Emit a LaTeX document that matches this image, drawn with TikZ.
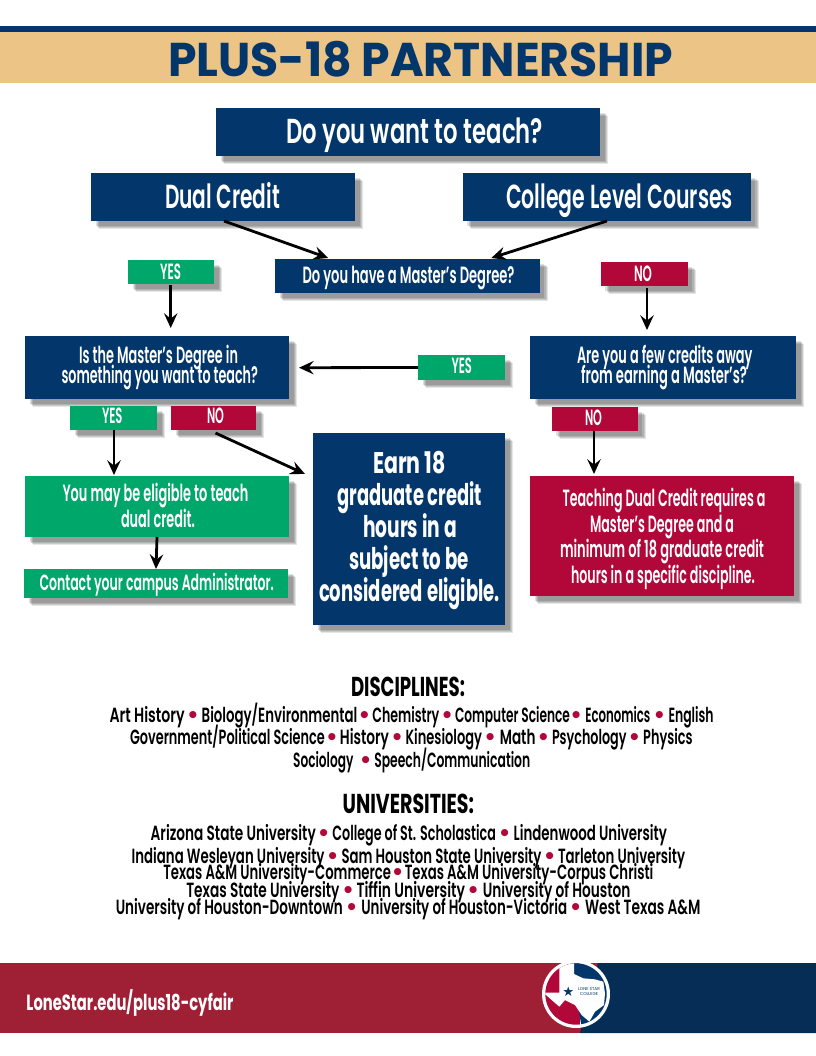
\documentclass[tikz,border=0pt]{standalone}
\usepackage{graphicx}
\usepackage{fontspec}
\setmainfont{Poppins}[BoldFont=* Bold]
\newfontfamily\semi{Poppins SemiBold}
\newfontfamily\dejavu{DejaVu Sans}
\usetikzlibrary{arrows.meta,calc,shadows}
\definecolor{navy}{HTML}{03366A}
\definecolor{grn}{HTML}{00A76A}
\definecolor{crim}{HTML}{B10839}
\definecolor{tan}{HTML}{ECC486}
\definecolor{footred}{HTML}{9F1F35}
\definecolor{footnavy}{HTML}{052D56}
\newcommand\bx[7]{%
  \pgfmathsetmacro\bcx{(#2+#4)/2}\pgfmathsetmacro\bcy{(#3+#5)/2}%
  \pgfmathsetmacro\bxw{(#4-#2)*.75}\pgfmathsetmacro\bxh{(#5-#3)*.75}%
  \node[#6,minimum width=\bxw pt,minimum height=\bxh pt] (#1) at (\bcx,\bcy) {#7};}
\newcommand\tl[4]{%
  \pgfmathsetmacro\lndx{(#1-\bcx)*.75}\pgfmathsetmacro\lndy{(\bcy-#3-0.8)*.75}\pgfmathsetmacro\lnw{(#2-#1)*.75}%
  \raisebox{\lndy pt}[0pt][0pt]{\rlap{\kern\lndx pt\resizebox{\lnw pt}{\height}{#4}}}\ignorespaces}
% one line of a list: its node sits on the baseline, its parts are placed along it
\newcommand\lst[5]{\def\lstbase{#2}\bx{#1}{#3}{#2}{#4}{#2}{listline}{#5}}
\newcommand\sg[3]{\tl{#1}{#2}{\lstbase}{#3}}
\newcommand\bl[1]{%
  \pgfmathsetmacro\lndx{(#1-\bcx)*.75}%
  \raisebox{-1.4pt}[0pt][0pt]{\rlap{\kern\lndx pt\makebox[0pt]{\textcolor{crim}{\fontsize{19}{20}\selectfont •}}}}\ignorespaces}
\tikzset{
  px/.style={x=.75pt,y=-.75pt},
  softshadow/.style={
    general shadow={fill=black,fill opacity=.12,shadow xshift=3.6pt,shadow yshift=-3.6pt},
    general shadow={fill=black,fill opacity=.12,shadow xshift=4.6pt,shadow yshift=-4.6pt},
    general shadow={fill=black,fill opacity=.12,shadow xshift=5.4pt,shadow yshift=-5.4pt},
    general shadow={fill=black,fill opacity=.10,shadow xshift=6.2pt,shadow yshift=-6.2pt}},
  box/.style={rectangle,inner sep=0pt,outer sep=0pt,text=white,softshadow},
  navybox/.style={box,fill=navy},
  grnbox/.style={box,fill=grn},
  crimbox/.style={box,fill=crim},
  fa/.style={font=\semi\fontsize{17.6}{20}\selectfont},
  fb/.style={font=\semi\fontsize{16.5}{20}\selectfont},
  fc/.style={font=\bfseries\fontsize{22.4}{26}\selectfont},
  fd/.style={font=\semi\fontsize{25}{28}\selectfont},
  fe/.style={font=\semi\fontsize{26}{30}\selectfont},
  ff/.style={font=\bfseries\fontsize{35.5}{40}\selectfont},
  plain/.style={inner sep=0pt,outer sep=0pt,anchor=base,text=black},
  listline/.style={rectangle,inner sep=0pt,outer sep=0pt,text=black,font=\semi\fontsize{15.4}{18}\selectfont},
  heada/.style={plain,font=\bfseries\fontsize{20.5}{24}\selectfont},
  arr/.style={draw=black,line width=2.1pt,-{Stealth[length=11pt,width=10pt,inset=4pt]}},
}
\newcommand\textline[6]{%
  \pgfmathsetmacro\lnw{(#3-#2)*.75}\pgfmathsetmacro\lnx{(#2+#3)/2}\pgfmathsetmacro\lny{#4+0.8}%
  \node[#5] (#1) at (\lnx,\lny) {\resizebox{\lnw pt}{\height}{#6}};}
\begin{document}
\begin{tikzpicture}[px]
\useasboundingbox (0,0) rectangle (816,1056);
% header
\fill[navy] (0,26) rectangle (816,32);
\bx{banner}{0}{32}{816}{83}{rectangle,inner sep=0pt,fill=tan,text=navy,ff}{\tl{168}{673}{75.5}{PLUS-18 PARTNERSHIP}}
% boxes
\bx{teach}{216}{108}{600}{156}{navybox,fe}{\tl{286}{543}{143}{Do you want to teach?}}
\bx{dual}{91}{173}{355}{221}{navybox,fd}{\tl{165}{280}{208}{Dual Credit}}
\bx{college}{462.5}{173}{750.5}{221}{navybox,fd}{\tl{506}{733}{208}{College Level Courses}}
\bx{master}{275}{259}{539.5}{293}{navybox,fa}{\tl{302.5}{514.5}{283}{Do you have a Master’s Degree?}}
\bx{yesa}{128}{260}{214}{284}{grnbox,fb}{\tl{160}{181}{279}{YES}}
\bx{noa}{600.5}{262}{687.5}{286}{crimbox,fb}{\tl{634}{652}{280.5}{NO}}
\bx{insub}{25}{336}{289}{399}{navybox,fa}{\tl{79}{238}{362.7}{Is the Master’s Degree in}\tl{61.5}{258}{383}{something you want to teach?}}
\bx{few}{530}{336}{796}{399}{navybox,fa}{\tl{577}{752.5}{363}{Are you a few credits away}\tl{581}{747}{383}{from earning a Master’s?}}
\bx{yesm}{418}{355}{505}{380}{grnbox,fb}{\tl{451.5}{472}{372.7}{YES}}
\bx{yesb}{70}{406}{157}{430}{grnbox,fb}{\tl{102}{122.5}{423}{YES}}
\bx{nob}{171}{406}{256}{430}{crimbox,fb}{\tl{207}{224}{423}{NO}}
\bx{noc}{551.5}{407}{637.5}{431}{crimbox,fb}{\tl{585}{602}{425}{NO}}
\bx{earn}{313}{433}{505}{625}{navybox,fc}{\tl{373}{446}{473}{Earn 18}\tl{337.5}{482}{505}{graduate credit}\tl{363}{457}{537}{hours in a}\tl{349}{469}{569}{subject to be}\tl{319}{500}{600.7}{considered eligible.}}
\bx{elig}{25}{476}{289}{537}{grnbox,fa}{\tl{62.5}{248.5}{500.7}{You may be eligible to teach}\tl{121}{195}{526.7}{dual credit.}}
\bx{contact}{24}{569}{288}{598}{grnbox,fb}{\tl{39.5}{274}{590}{Contact your campus Administrator.}}
\bx{req}{530}{476}{794}{596}{crimbox,fa}{\tl{562.5}{765.5}{505.7}{Teaching Dual Credit requires a}\tl{590}{734}{531.7}{Master’s Degree and a}\tl{560}{764}{556.7}{minimum of 18 graduate credit}\tl{571}{755}{583}{hours in a specific discipline.}}
% connectors
\draw[arr] ($(dual.south)+(1,0)$) -- ($(master.north)+(-79,-1)$);
\draw[arr] ($(college.south)+(0.5,0)$) -- ($(master.north)+(84,-1)$);
\draw[arr] ($(yesa.south)+(-0.3,1)$) -- ++(0,43);
\draw[arr] ($(noa.south)+(3,2)$) -- ++(0,42);
\draw[arr] (yesm.west) -- ($(insub.east)+(10,0.2)$);
\draw[arr] ($(yesb.south)+(0.5,0)$) -- ($(elig.north)+(-43,-1)$);
\draw[arr] ($(nob.south)+(2,3)$) -- ($(earn.north west)+(-8,41)$);
\draw[arr] ($(noc.south)+(-0.5,0)$) -- ($(req.north)+(-68,-2)$);
\draw[arr] (elig.south) -- (contact.north);
% lists
\textline{dhead}{351}{465}{696}{heada}{DISCIPLINES:}
\lst{da}{721.7}{109.5}{713.5}{\sg{109.5}{184.7}{Art History}\bl{193}\sg{201.7}{357.3}{Biology/Environmental}\bl{364.5}\sg{372.4}{439.3}{Chemistry}\bl{447.2}\sg{455}{570}{Computer Science}\bl{576.2}\sg{585.3}{650.3}{Economics}\bl{659.4}\sg{668.5}{713.6}{English}}
\lst{db}{744}{130}{692.5}{\sg{130}{324.9}{Government/Political Science}\bl{332}\sg{339.9}{389}{History}\bl{397.3}\sg{405.6}{482}{Kinesiology}\bl{490.3}\sg{499.8}{535.5}{Math}\bl{543.4}\sg{552}{626.5}{Psychology}\bl{634.4}\sg{643.2}{692.6}{Physics}}
\lst{dc}{766.7}{293}{530}{\sg{293.2}{353.4}{Sociology}\bl{365.6}\sg{374.3}{530.3}{Speech/Communication}}
\textline{uhead}{342.7}{474}{813}{heada}{UNIVERSITIES:}
\lst{ua}{840}{150.7}{667}{\sg{150.7}{315.8}{Arizona State University}\bl{323.7}\sg{332.4}{495.9}{College of St. Scholastica}\bl{504.6}\sg{513.7}{666.9}{Lindenwood University}}
\lst{ub}{862.7}{131.7}{685}{\sg{131.7}{324.5}{Indiana Wesleyan University}\bl{332.8}\sg{341.5}{541.4}{Sam Houston State University}\bl{549.7}\sg{558}{685.1}{Tarleton University}}
\lst{uc}{879}{163}{653.4}{\sg{163.3}{391}{Texas A\&M University-Commerce}\bl{397.7}\sg{404.8}{653.4}{Texas A\&M University-Corpus Christi}}
\lst{ud}{897}{186}{630.5}{\sg{186.3}{339.5}{Texas State University}\bl{348.2}\sg{356.5}{465}{Tiffin University}\bl{473.3}\sg{482.8}{630.5}{University of Houston}}
\lst{ue}{914}{116}{700.5}{\sg{115.8}{342.7}{University of Houston-Downtown}\bl{351.8}\sg{361.3}{567.1}{University of Houston-Victoria}\bl{575.8}\sg{585}{700.5}{West Texas A\&M}}
% footer
\fill[footred] (0,963) rectangle (598,1033);
\fill[footnavy] (598,963) -- (816,963) -- (816,1033) -- (580,1033) -- cycle;
\textline{url}{26.5}{233.5}{1009.5}{plain,text=white,font=\bfseries\fontsize{16.5}{20}\selectfont}{LoneStar.edu/plus18-cyfair}
% logo
\begin{scope}[shift={(500,950)},x=.25pt,y=-.25pt]
\fill[white] (228,132) circle [radius=25.5pt];
\begin{scope}
\clip (228,132) circle [radius=23pt];
\fill[crim] (100,0) rectangle (240,260);
\fill[navy] (185,0) -- (340,0) -- (340,260) -- (250,260) -- (222,100) -- cycle;
\fill[white] (178,30) -- (222,30) -- (222,72) -- (250,85) -- (285,88) -- (310,95) -- (315,130) -- (312,165) -- (285,185) -- (268,215) -- (245,195) -- (225,165) -- (195,150) -- (178,170) -- (155,150) -- (130,128) -- (178,128) -- cycle;
\end{scope}
\node[text=navy,inner sep=0pt,font=\rmfamily\fontsize{3.2}{3.6}\selectfont,align=center] (logotext) at (267,125) {LONE STAR\\COLLEGE};
\node[text=navy,inner sep=0pt,font=\dejavu\fontsize{10}{10}\selectfont] (logostar) at (205,125) {★};
\end{scope}
\end{tikzpicture}
\end{document}
